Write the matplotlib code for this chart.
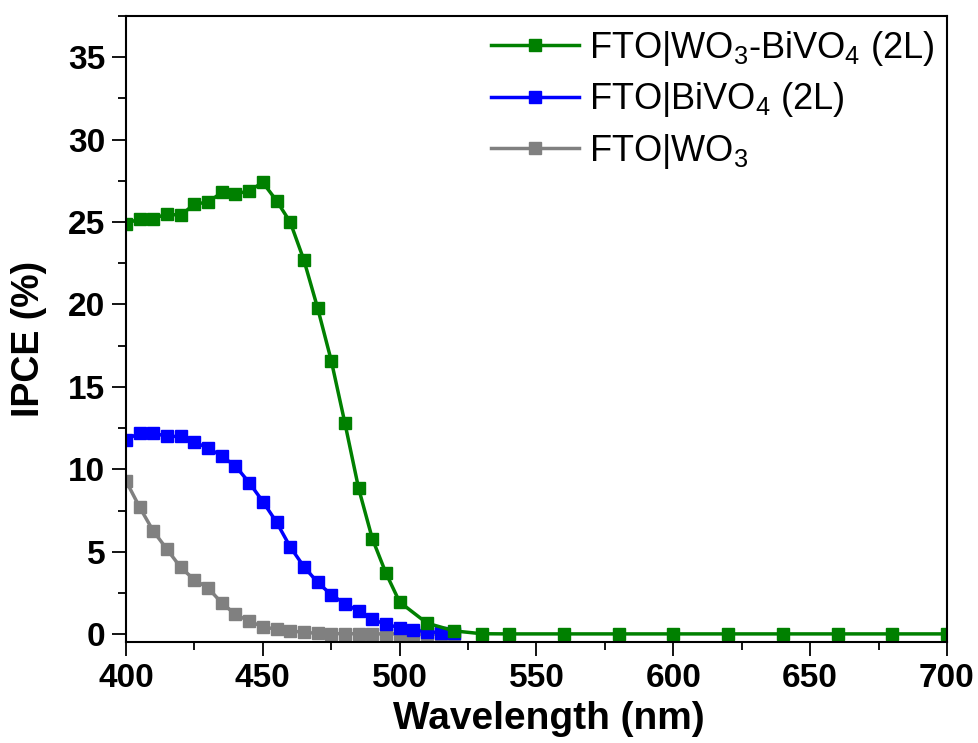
import matplotlib
matplotlib.use("Agg")
import matplotlib.pyplot as plt
from matplotlib.ticker import MultipleLocator

plt.rcParams["font.family"] = ["Liberation Sans", "DejaVu Sans"]
plt.rcParams["mathtext.default"] = "regular"

# wavelengths (nm)
wl_fine = [400, 405, 410, 415, 420, 425, 430, 435, 440, 445, 450, 455, 460,
           465, 470, 475, 480, 485, 490, 495, 500, 505, 510, 515, 520]
wl_green = [400, 405, 410, 415, 420, 425, 430, 435, 440, 445, 450, 455, 460,
            465, 470, 475, 480, 485, 490, 495, 500, 510, 520, 530, 540, 560,
            580, 600, 620, 640, 660, 680, 700]

# IPCE (%)
ipce_wo3_bivo4 = [24.9, 25.2, 25.2, 25.5, 25.4, 26.1, 26.2, 26.8, 26.7, 26.9,
                  27.4, 26.3, 25.0, 22.7, 19.8, 16.6, 12.8, 8.85, 5.8, 3.7,
                  1.95, 0.67, 0.2, 0.03, 0.02, 0.02, 0.02, 0.02, 0.02, 0.02,
                  0.02, 0.02, 0.02]
ipce_bivo4 = [11.8, 12.2, 12.2, 12.0, 12.0, 11.65, 11.3, 10.8, 10.2, 9.2,
              8.05, 6.8, 5.3, 4.1, 3.15, 2.4, 1.85, 1.4, 0.9, 0.6, 0.4, 0.25,
              0.15, 0.1, 0.05]
ipce_wo3 = [9.3, 7.7, 6.25, 5.15, 4.05, 3.3, 2.8, 1.9, 1.2, 0.8, 0.45, 0.3,
            0.2, 0.12, 0.05, 0.04, 0.03, 0.03, 0.02, 0.02, 0.02, 0.01, 0.01,
            0.01, 0.01]

labels = ["FTO|WO$_3$-BiVO$_4$ (2L)", "FTO|BiVO$_4$ (2L)", "FTO|WO$_3$"]
colors = ["#008000", "#0000ff", "#808080"]

fig = plt.figure(figsize=(9.79, 7.43), dpi=100)
ax = fig.add_axes([0.1287, 0.1353, 0.8386, 0.8432])

style = dict(marker="s", markersize=9, linewidth=2.5)
h3, = ax.plot(wl_fine, ipce_wo3, color=colors[2], mec=colors[2], label=labels[2], **style)
h2, = ax.plot(wl_fine, ipce_bivo4, color=colors[1], mec=colors[1], label=labels[1], **style)
h1, = ax.plot(wl_green, ipce_wo3_bivo4, color=colors[0], mec=colors[0], label=labels[0], **style)

ax.set_xlim(400, 700)
ax.set_ylim(-0.5, 37.5)
ax.xaxis.set_major_locator(MultipleLocator(50))
ax.xaxis.set_minor_locator(MultipleLocator(25))
ax.yaxis.set_major_locator(MultipleLocator(5))
ax.yaxis.set_minor_locator(MultipleLocator(2.5))

ax.tick_params(which="major", direction="out", length=10, width=1.3,
               labelsize=24, top=False, right=False, pad=5)
ax.tick_params(which="minor", direction="out", length=5.5, width=1.3,
               top=False, right=False)
for lab in ax.get_xticklabels() + ax.get_yticklabels():
    lab.set_fontweight("bold")
for sp in ax.spines.values():
    sp.set_linewidth(1.5)

ax.set_xlabel("Wavelength (nm)", fontsize=28, fontweight="bold")
ax.set_ylabel("IPCE (%)", fontsize=27, fontweight="bold")
ax.xaxis.set_label_coords(0.515, -0.094)
ax.yaxis.set_label_coords(-0.096, 0.485)

ax.legend(handles=[h1, h2, h3], loc="upper right", bbox_to_anchor=(1, 1),
          frameon=False, fontsize=26, numpoints=1, handlelength=2.45,
          handletextpad=0.28, labelspacing=0.35, borderaxespad=0.3,
          borderpad=0.05)

fig.savefig("out.png", dpi=100)
